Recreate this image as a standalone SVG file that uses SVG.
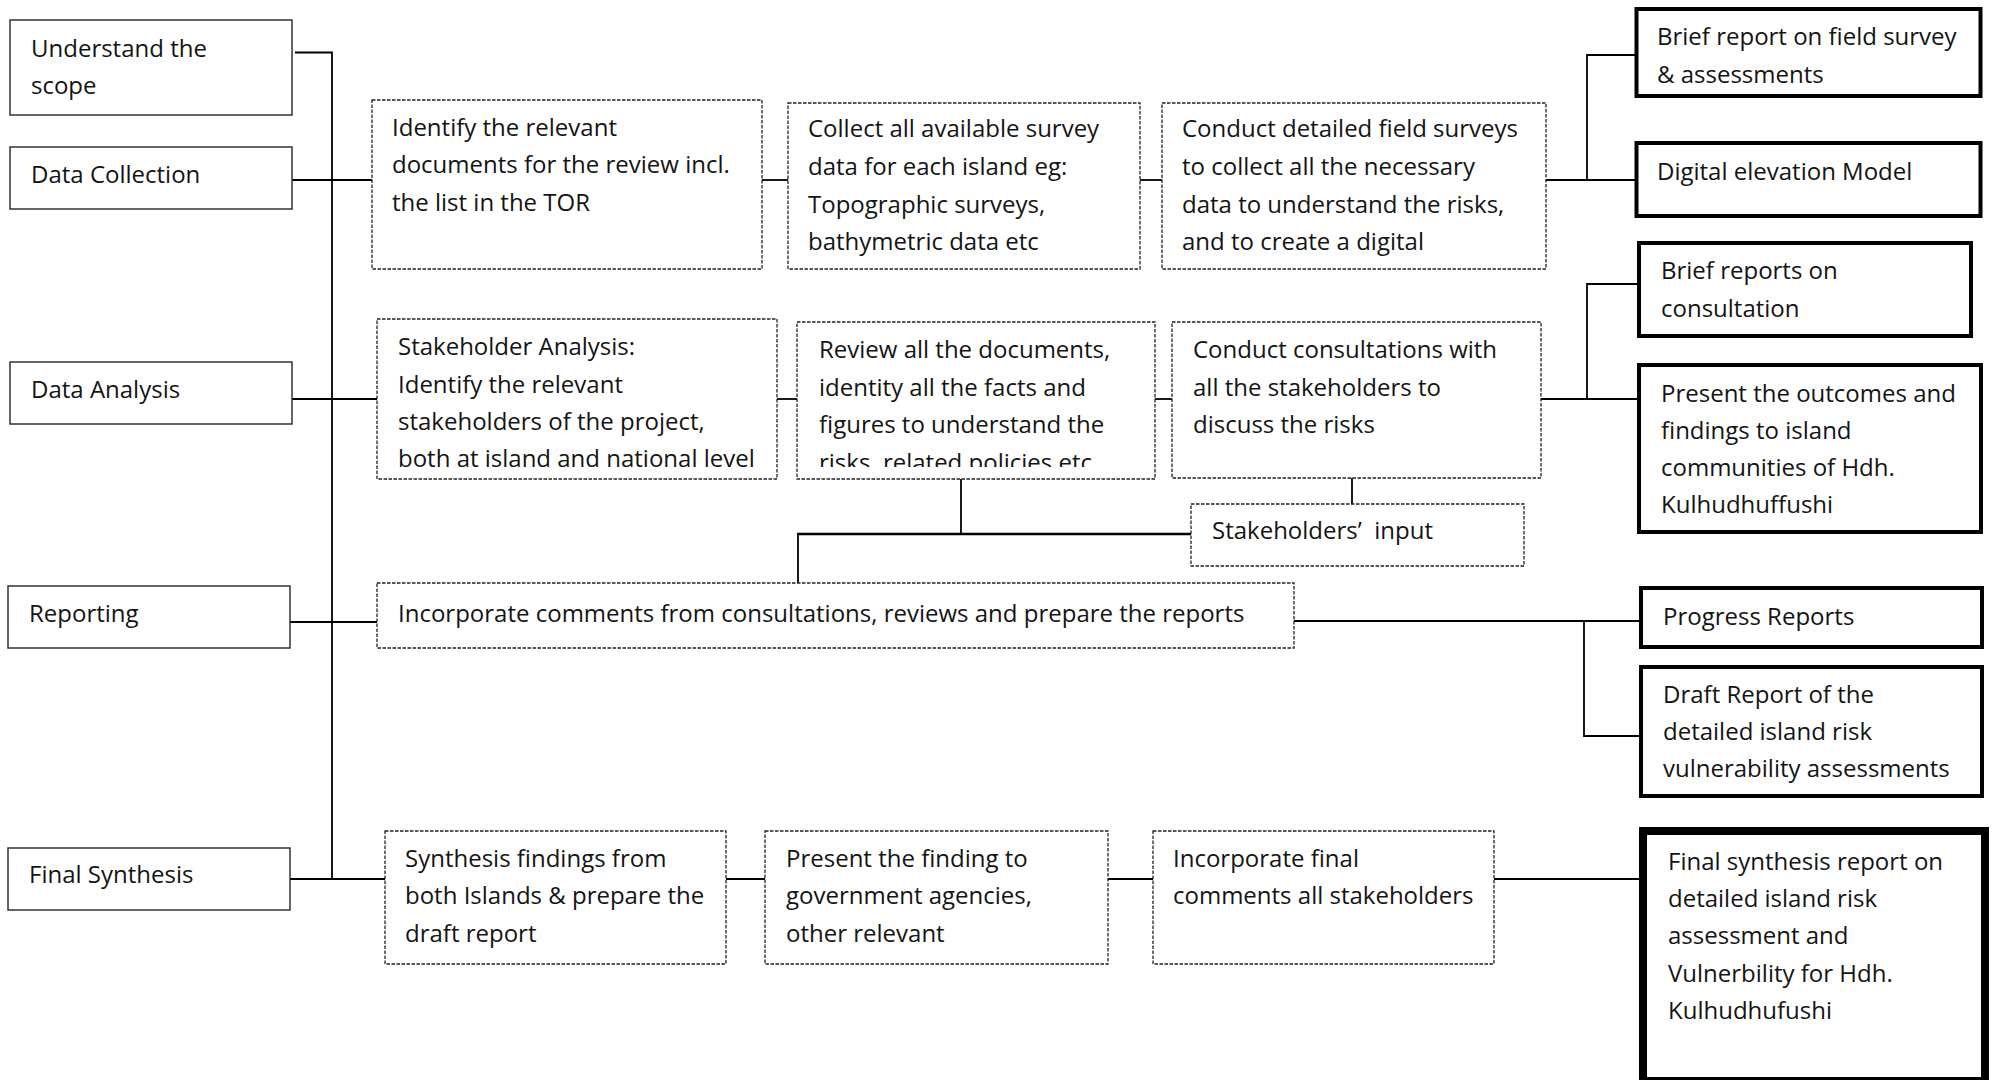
<svg xmlns="http://www.w3.org/2000/svg" width="1997" height="1080" viewBox="0 0 1997 1080">
<style>
text{font-family:"Open Sans","Noto Sans","Liberation Sans",sans-serif;font-size:24px;fill:#141414}
.phase{fill:#fff;stroke:#333;stroke-width:1.5}
.task{fill:#fff;stroke:#222;stroke-width:1.3;stroke-dasharray:3.5 1.5}
.out{fill:#fff;stroke:#000;stroke-width:4}
.final{fill:#fff;stroke:#000;stroke-width:8}
.c{fill:none;stroke:#000;stroke-width:1.8}
.thick{stroke-width:2.6}
</style>
<defs>
<clipPath id="clipReview"><rect x="797" y="322" width="358" height="145"/></clipPath>
</defs>
<rect width="1997" height="1080" fill="#fff"/>

<g id="connectors">
<path class="c" d="M295 52.5H332V879"/>
<path class="c" d="M292 180H372"/>
<path class="c" d="M292 399H377"/>
<path class="c" d="M290 622H377"/>
<path class="c" d="M290 879H385"/>
<path class="c" d="M762 180H788"/>
<path class="c" d="M1140 180H1162"/>
<path class="c" d="M1546 180H1636"/>
<path class="c" d="M1636 55H1587V180"/>
<path class="c" d="M777 399H797"/>
<path class="c" d="M1155 399H1172"/>
<path class="c" d="M1541 399H1638"/>
<path class="c" d="M1638 284H1587V399"/>
<path class="c" d="M961 479V534"/>
<path class="c" d="M798 583V535"/>
<path class="c thick" d="M797 534H1191"/>
<path class="c" d="M1352 478V504"/>
<path class="c" d="M1294 621H1640"/>
<path class="c" d="M1584 621V736H1640"/>
<path class="c" d="M726 879H765"/>
<path class="c" d="M1108 879H1153"/>
<path class="c" d="M1494 879H1643"/>
</g>

<g id="understand-scope">
<rect class="phase" x="10" y="20" width="282" height="95"/>
<text x="31" y="57">Understand the</text>
<text x="31" y="94">scope</text>
</g>
<g id="data-collection">
<rect class="phase" x="10" y="147" width="282" height="62"/>
<text x="31" y="183">Data Collection</text>
</g>
<g id="data-analysis">
<rect class="phase" x="10" y="362" width="282" height="62"/>
<text x="31" y="398">Data Analysis</text>
</g>
<g id="reporting">
<rect class="phase" x="8" y="586" width="282" height="62"/>
<text x="29" y="622">Reporting</text>
</g>
<g id="final-synthesis">
<rect class="phase" x="8" y="848" width="282" height="62"/>
<text x="29" y="883">Final Synthesis</text>
</g>

<g id="identify-docs">
<rect class="task" x="372" y="100" width="390" height="169"/>
<text x="392" y="136">Identify the relevant</text>
<text x="392" y="173">documents for the review incl.</text>
<text x="392" y="211">the list in the TOR</text>
</g>
<g id="collect-data">
<rect class="task" x="788" y="103" width="352" height="166"/>
<text x="808" y="137">Collect all available survey</text>
<text x="808" y="175">data for each island eg:</text>
<text x="808" y="213">Topographic surveys,</text>
<text x="808" y="250">bathymetric data etc</text>
</g>
<g id="field-surveys">
<rect class="task" x="1162" y="103" width="384" height="166"/>
<text x="1182" y="137">Conduct detailed field surveys</text>
<text x="1182" y="175">to collect all the necessary</text>
<text x="1182" y="213">data to understand the risks,</text>
<text x="1182" y="250">and to create a digital</text>
</g>
<g id="brief-field-report">
<rect class="out" x="1636.5" y="9" width="344" height="87"/>
<text x="1657" y="45">Brief report on field survey</text>
<text x="1657" y="83">&amp; assessments</text>
</g>
<g id="dem">
<rect class="out" x="1636.5" y="143" width="344" height="73"/>
<text x="1657" y="180">Digital elevation Model</text>
</g>

<g id="stakeholder-analysis">
<rect class="task" x="377" y="319" width="400" height="160"/>
<text x="398" y="355">Stakeholder Analysis:</text>
<text x="398" y="393">Identify the relevant</text>
<text x="398" y="430">stakeholders of the project,</text>
<text x="398" y="467">both at island and national level</text>
</g>
<g id="review-docs">
<rect class="task" x="797" y="322" width="358" height="157"/>
<g clip-path="url(#clipReview)">
<text x="819" y="358">Review all the documents,</text>
<text x="819" y="396">identity all the facts and</text>
<text x="819" y="433">figures to understand the</text>
<text x="819" y="471">risks. related policies etc.</text>
</g>
</g>
<g id="consultations">
<rect class="task" x="1172" y="322" width="369" height="156"/>
<text x="1193" y="358">Conduct consultations with</text>
<text x="1193" y="396">all the stakeholders to</text>
<text x="1193" y="433">discuss the risks</text>
</g>
<g id="stakeholders-input">
<rect class="task" x="1191" y="504" width="333" height="62"/>
<text x="1212" y="539">Stakeholders’&#160; input</text>
</g>
<g id="brief-consultation">
<rect class="out" x="1639" y="243" width="332" height="93"/>
<text x="1661" y="279">Brief reports on</text>
<text x="1661" y="317">consultation</text>
</g>
<g id="present-outcomes">
<rect class="out" x="1639" y="365" width="342" height="167"/>
<text x="1661" y="402">Present the outcomes and</text>
<text x="1661" y="439">findings to island</text>
<text x="1661" y="476">communities of Hdh.</text>
<text x="1661" y="513">Kulhudhuffushi</text>
</g>

<g id="incorporate-comments">
<rect class="task" x="377" y="583" width="917" height="65"/>
<text x="398" y="622">Incorporate comments from consultations, reviews and prepare the reports</text>
</g>
<g id="progress-reports">
<rect class="out" x="1641" y="588" width="341" height="59"/>
<text x="1663" y="625">Progress Reports</text>
</g>
<g id="draft-report">
<rect class="out" x="1641" y="667" width="341" height="129"/>
<text x="1663" y="703">Draft Report of the</text>
<text x="1663" y="740">detailed island risk</text>
<text x="1663" y="777">vulnerability assessments</text>
</g>

<g id="synthesis-findings">
<rect class="task" x="385" y="831" width="341" height="133"/>
<text x="405" y="867">Synthesis findings from</text>
<text x="405" y="904">both Islands &amp; prepare the</text>
<text x="405" y="942">draft report</text>
</g>
<g id="present-finding">
<rect class="task" x="765" y="831" width="343" height="133"/>
<text x="786" y="867">Present the finding to</text>
<text x="786" y="904">government agencies,</text>
<text x="786" y="942">other relevant</text>
</g>
<g id="incorporate-final">
<rect class="task" x="1153" y="831" width="341" height="133"/>
<text x="1173" y="867">Incorporate final</text>
<text x="1173" y="904">comments all stakeholders</text>
</g>
<g id="final-report">
<rect class="final" x="1643" y="831" width="342" height="250"/>
<text x="1668" y="870">Final synthesis report on</text>
<text x="1668" y="907">detailed island risk</text>
<text x="1668" y="944">assessment and</text>
<text x="1668" y="982">Vulnerbility for Hdh.</text>
<text x="1668" y="1019">Kulhudhufushi</text>
</g>
</svg>
